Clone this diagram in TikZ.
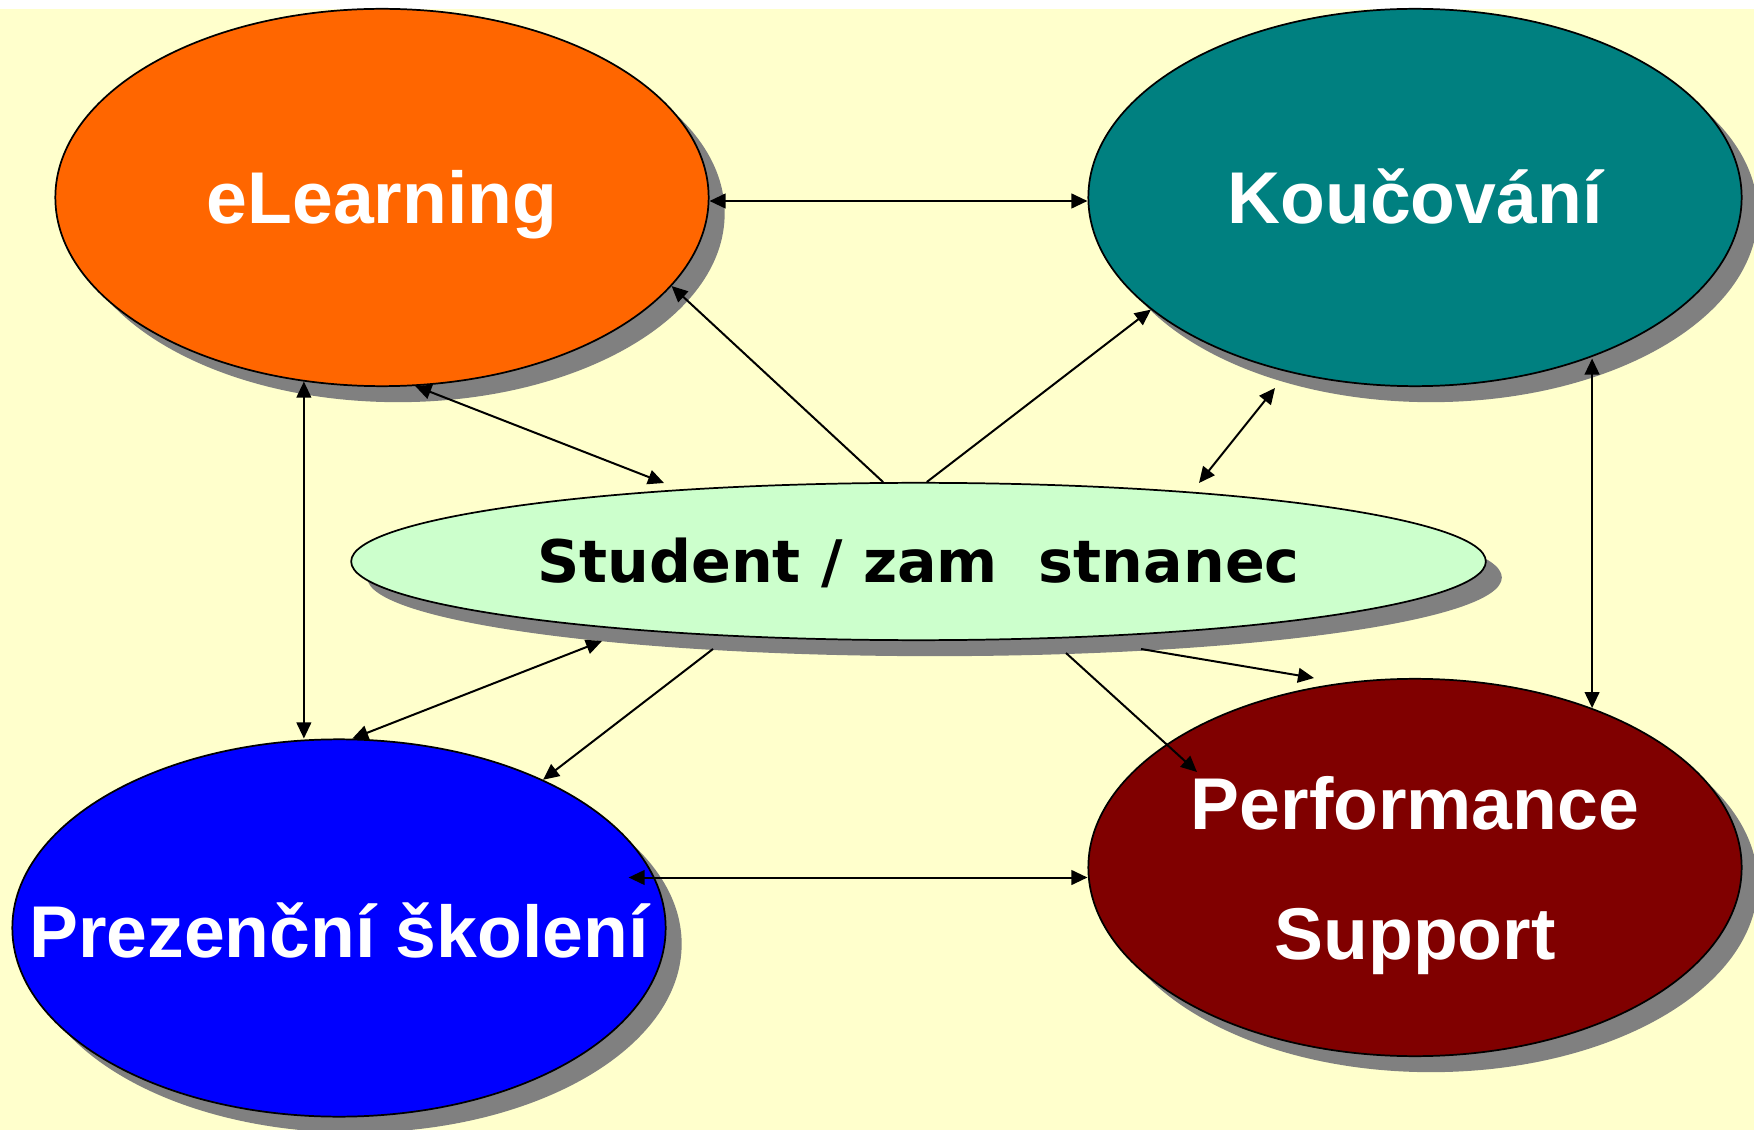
\documentclass[tikz,border=0pt]{standalone}
\usepackage{fontspec}
\setmainfont{Liberation Sans}
\newfontfamily\verdanafont{DejaVu Sans}
\usepackage{tikz}
\usetikzlibrary{shapes}
\usetikzlibrary{shadows}
\usetikzlibrary{arrows.meta}
\usetikzlibrary{calc}

\definecolor{bgyellow}{HTML}{FFFFCC}
\definecolor{elorange}{HTML}{FF6600}
\definecolor{koteal}{HTML}{008080}
\definecolor{stgreen}{HTML}{CCFFCC}
\definecolor{pzblue}{HTML}{0000FF}
\definecolor{psmaroon}{HTML}{800000}
\definecolor{shadowgray}{HTML}{808080}

\tikzset{
  oval/.style={ellipse, draw=black, line width=1.3pt, inner sep=0pt,
    minimum width=490pt, minimum height=283pt,
    drop shadow={shadow xshift=12pt, shadow yshift=-12pt, fill=shadowgray, opacity=1}},
  ovaltext/.style={text=white, inner sep=0pt, font=\bfseries\fontsize{55}{98}\selectfont},
  oneline/.style={text height=39.4pt, text depth=0pt},
  link/.style={line width=1.5pt, -{Triangle[length=12pt,width=11pt]}},
  twoway/.style={line width=1.5pt, {Triangle[length=12pt,width=11pt]}-{Triangle[length=12pt,width=11pt]}},
}

\begin{document}
\begin{tikzpicture}[x=0.75pt,y=0.75pt,yscale=-1,xscale=1]
\useasboundingbox (0,0) rectangle (1754,1130);
%Background
\fill[white] (0,0) rectangle (1754,1130);
\fill[bgyellow] (0,9) rectangle (1754,1130);

%Shape: Ellipse [eLearning]
\node[oval, fill=elorange] (el) at (382,197.5) {};
%Shape: Ellipse [Koucovani]
\node[oval, fill=koteal] (ko) at (1415,197.5) {};
%Shape: Ellipse [Student]
\node[oval, fill=stgreen, minimum width=851pt, minimum height=118pt] (st) at (918.5,561.5) {};
%Shape: Ellipse [Prezencni skoleni]
\node[oval, fill=pzblue] (pz) at (339,928) {};
%Shape: Ellipse [Performance Support]
\node[oval, fill=psmaroon] (ps) at (1415,867.5) {};

% Texts
\node[ovaltext, oneline] (eltext) at (el) {eLearning};
\node[ovaltext, oneline] (kotext) at (ko) {Koučování};
\node[ovaltext, oneline] (pztext) at ($(pz)+(0,3)$) {Prezenční školení};
\node[ovaltext, align=center] (pstext) at ($(ps)+(0,8)$) {Performance\\Support};
\node[ovaltext, text=black, font=\verdanafont\bfseries\fontsize{44}{53}\selectfont,
  text height=32pt, text depth=0pt] (sttext) at (st) {Student / zam~~stnanec};

% Connectors
\draw[twoway] ($(el.east)+(0,3.5)$) -- ($(ko.west)+(0,3.5)$);
\draw[twoway] (el.247) -- (el.247 |- pz.north);
\draw[twoway] (ps.42.5 |- ko.317.5) -- (ps.42.5);
\draw[twoway] ($(ps.west)+(0,10)$) -- ($(pz.17 |- ps.west)+(0,10)$);
\draw[twoway] (el.280) -- ($(st)+(-254.5,-78.5)$);
\draw[link] (st.114) -- (el.343);
\draw[link] (st.84.5) -- (ko.203);
\draw[twoway] ($(st)+(280.5,-78.5)$) -- ($(ko)+(-140,190.5)$);
\draw[twoway] ($(st)+(-316.5,79.5)$) -- (pz.86);
\draw[link] ($(st)+(-205.5,87.5)$) -- (pz.36);
\draw[link] ($(st)+(147.5,91.5)$) -- ($(ps)+(-218,-95.5)$);
\draw[link] ($(st)+(222.5,87.5)$) -- ($(ps)+(-101,-189.5)$);
\end{tikzpicture}
\end{document}
